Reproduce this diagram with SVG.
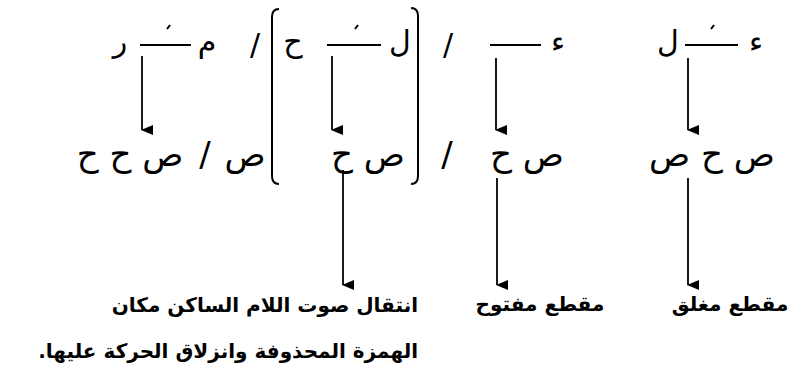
<svg xmlns="http://www.w3.org/2000/svg" width="790" height="388" viewBox="0 0 790 388">
<defs>
<marker id="ah" markerWidth="10" markerHeight="12" refX="5" refY="11" orient="auto-start-reverse" markerUnits="userSpaceOnUse" viewBox="0 0 10 12">
<path d="M0,0 L10,0 L5,12 Z" fill="#000"/>
</marker>
<style>
.t{font-family:"DejaVu Sans",sans-serif;fill:#000;}
.top{font-size:30px;}
.mid{font-size:34px;}
.lab{font-size:20px;font-weight:bold;}
.ln{stroke:#000;stroke-width:2;fill:none;}
.ar{stroke:#000;stroke-width:1.8;fill:none;marker-end:url(#ah);}
</style>
</defs>
<rect width="790" height="388" fill="#fff"/>

<g id="n-top-1">
<text class="t top" x="756" y="52" text-anchor="middle">ء</text>
<line class="ln" x1="685" y1="45" x2="738" y2="45"/>
<line class="ln" x1="711" y1="29" x2="714" y2="25"/>
<text class="t top" x="668" y="52" text-anchor="middle">ل</text>
</g>
<g id="n-top-2">
<text class="t top" x="558" y="52" text-anchor="middle">ء</text>
<line class="ln" x1="490" y1="45" x2="541" y2="45"/>
<text class="t top" x="448" y="55" text-anchor="middle">/</text>
</g>
<g id="n-top-3">
<text class="t top" x="400" y="52" text-anchor="middle">ل</text>
<line class="ln" x1="327" y1="45" x2="381" y2="45"/>
<line class="ln" x1="355" y1="29" x2="358" y2="25"/>
<text class="t top" x="293" y="52" text-anchor="middle">ح</text>
</g>
<g id="n-top-4">
<text class="t top" x="255" y="55" text-anchor="middle">/</text>
<text class="t top" x="207" y="52" text-anchor="middle">م</text>
<line class="ln" x1="140" y1="45" x2="191" y2="45"/>
<line class="ln" x1="167" y1="29" x2="170" y2="25"/>
<text class="t top" x="120" y="52" text-anchor="middle">ر</text>
</g>

<g id="brackets">
<path class="ln" d="M279,9 Q272,9 272,17 V176 Q272,184 279,184"/>
<path class="ln" d="M411,8 Q418,8 418,16 V176 Q418,184 411,184"/>
</g>

<g id="n-mid-1">
<text class="t mid" x="712" y="166" text-anchor="middle">ص ح ص</text>
</g>
<g id="n-mid-2">
<text class="t mid" x="527" y="166" text-anchor="middle">ص ح</text>
<text class="t mid" x="447" y="166" text-anchor="middle">/</text>
</g>
<g id="n-mid-3">
<text class="t mid" x="368" y="166" text-anchor="middle">ص ح</text>
</g>
<g id="n-mid-4">
<text class="t mid" x="245" y="166" text-anchor="middle">ص</text>
<text class="t mid" x="205" y="166" text-anchor="middle">/</text>
<text class="t mid" x="130" y="166" text-anchor="middle">ص ح ح</text>
</g>

<g id="n-lab-1">
<text class="t lab" x="730" y="311" text-anchor="middle">مقطع مغلق</text>
</g>
<g id="n-lab-2">
<text class="t lab" x="540" y="311" text-anchor="middle">مقطع مفتوح</text>
</g>
<g id="n-lab-3">
<text class="t lab" x="418" y="312" direction="rtl" text-anchor="start">انتقال صوت اللام الساكن مكان</text>
<text class="t lab" x="418" y="358" direction="rtl" text-anchor="start">الهمزة المحذوفة وانزلاق الحركة عليها.</text>
</g>

<g id="connectors">
<line class="ar" x1="688" y1="58" x2="688" y2="130"/>
<line class="ar" x1="496" y1="58" x2="496" y2="130"/>
<line class="ar" x1="332" y1="56" x2="332" y2="130"/>
<line class="ar" x1="142" y1="56" x2="142" y2="130"/>
<line class="ar" x1="688" y1="178" x2="688" y2="285"/>
<line class="ar" x1="497" y1="178" x2="497" y2="285"/>
<line class="ar" x1="343" y1="170" x2="343" y2="285"/>
</g>
</svg>
